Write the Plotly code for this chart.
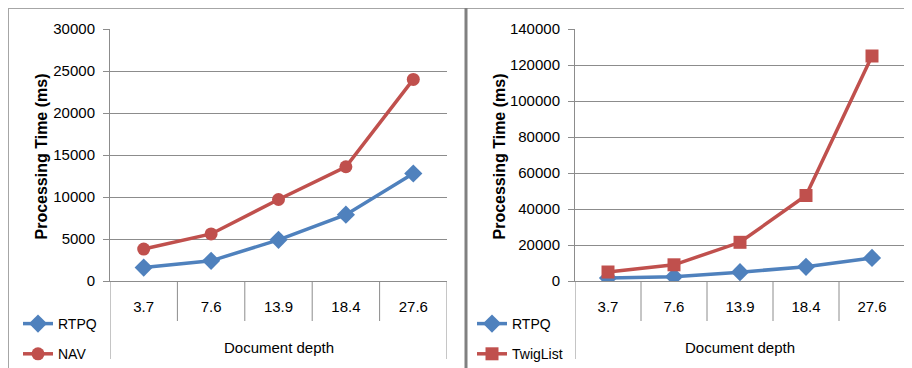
import plotly.graph_objects as go

# ---- data ----
depths = ["3.7", "7.6", "13.9", "18.4", "27.6"]
rtpq = [1600, 2400, 4900, 7900, 12800]
nav = [3800, 5600, 9700, 13600, 24000]
twiglist = [5000, 9000, 21500, 47500, 125000]
left_ticks = [0, 5000, 10000, 15000, 20000, 25000, 30000]
right_ticks = [0, 20000, 40000, 60000, 80000, 100000, 120000, 140000]

BLUE = "#4F81BD"
RED = "#C0504D"
GRID = "#8C8C8C"
FONT = "Liberation Sans"

# page offset of the plot div (body margin)
OFF = 8
W, H = 912 - OFF, 368 - OFF
# plot area in page pixels
PL, PR, PT, PB = 110, 905, 29, 281
ML, MR, MT, MB = PL - OFF, (W + OFF) - PR, PT - OFF, (H + OFF) - PB
PW = PR - PL
PH = PB - PT


def px(x):
    return (x - PL) / PW


def py(y):
    return (PB - y) / PH


fig = go.Figure()

fig.add_trace(go.Scatter(x=depths, y=rtpq, name="RTPQ", mode="lines+markers",
                         line=dict(color=BLUE, width=3.5),
                         marker=dict(symbol="diamond", size=14, color=BLUE),
                         xaxis="x", yaxis="y", legend="legend", legendgroup="a"))
fig.add_trace(go.Scatter(x=depths, y=nav, name="NAV", mode="lines+markers",
                         line=dict(color=RED, width=3.5),
                         marker=dict(symbol="circle", size=13, color=RED),
                         xaxis="x", yaxis="y", legend="legend", legendgroup="b"))
fig.add_trace(go.Scatter(x=depths, y=rtpq, name="RTPQ", mode="lines+markers",
                         line=dict(color=BLUE, width=3.5),
                         marker=dict(symbol="diamond", size=14, color=BLUE),
                         xaxis="x2", yaxis="y2", legend="legend2", legendgroup="c"))
fig.add_trace(go.Scatter(x=depths, y=twiglist, name="TwigList", mode="lines+markers",
                         line=dict(color=RED, width=3.5),
                         marker=dict(symbol="square", size=13, color=RED),
                         xaxis="x2", yaxis="y2", legend="legend2", legendgroup="d"))

xcommon = dict(type="category", range=[-0.5, len(depths) - 0.5], showgrid=False,
               showline=True, linecolor=GRID, linewidth=1, ticks="",
               ticklabelstandoff=12, zeroline=False, automargin=False,
               tickfont=dict(family=FONT, size=15, color="#000000"))
ycommon = dict(showgrid=True, gridcolor=GRID, gridwidth=1, showline=True,
               linecolor=GRID, linewidth=1, ticks="outside", ticklen=6,
               tickcolor=GRID, zeroline=False, ticklabelstandoff=5,
               tickformat="d", automargin=False,
               tickfont=dict(family=FONT, size=15, color="#000000"))

x1dom = [px(110), px(447)]
x2dom = [px(575), px(905)]

legend_common = dict(xref="container", yref="container", xanchor="left", yanchor="top",
                     font=dict(family=FONT, size=14, color="#000000"),
                     bgcolor="rgba(0,0,0,0)", tracegroupgap=9, itemwidth=30)

fig.update_layout(
    width=W, height=H,
    margin=dict(l=ML, r=MR, t=MT, b=MB, autoexpand=False),
    paper_bgcolor="white", plot_bgcolor="white",
    xaxis=dict(domain=x1dom, anchor="y", **xcommon),
    xaxis2=dict(domain=x2dom, anchor="y2", **xcommon),
    yaxis=dict(domain=[0, 1], anchor="x", range=[0, 30000], tickvals=left_ticks, **ycommon),
    yaxis2=dict(domain=[0, 1], anchor="x2", range=[0, 140000], tickvals=right_ticks, **ycommon),
    showlegend=True,
    legend=dict(x=(18 - OFF) / W, y=1 - (308 - OFF) / H, **legend_common),
    legend2=dict(x=(472 - OFF) / W, y=1 - (308 - OFF) / H, **legend_common),
)

# axis titles as annotations
for dom in (x1dom, x2dom):
    fig.add_annotation(text="Document depth", xref="paper", yref="paper",
                       x=(dom[0] + dom[1]) / 2, y=py(347), showarrow=False,
                       xanchor="center", yanchor="middle",
                       font=dict(family=FONT, size=15, color="#000000"))
for xc in (41, 499):
    fig.add_annotation(text="<b>Processing Time (ms)</b>", xref="paper", yref="paper",
                       x=px(xc), y=py(156.5), showarrow=False, textangle=-90,
                       xanchor="center", yanchor="middle",
                       font=dict(family=FONT, size=16, color="#000000"))

shapes = []
# category separators below the axis
for xa in ("x", "x2"):
    n = len(depths)
    for k in range(n + 1):
        bottom = py(359) if k in (0, n) else py(321)
        shapes.append(dict(type="line", xref=xa, yref="paper",
                           x0=k - 0.5, x1=k - 0.5, y0=0, y1=bottom,
                           line=dict(color=GRID, width=1)))
# frame decorations
shapes.append(dict(type="line", xref="paper", yref="paper",
                   x0=px(8), x1=px(912), y0=py(8.5), y1=py(8.5),
                   line=dict(color="#A6A6A6", width=1)))
shapes.append(dict(type="line", xref="paper", yref="paper",
                   x0=px(8.5), x1=px(8.5), y0=py(8), y1=py(368),
                   line=dict(color="#A6A6A6", width=1)))
shapes.append(dict(type="line", xref="paper", yref="paper",
                   x0=px(466), x1=px(466), y0=py(8), y1=py(368),
                   line=dict(color="#808080", width=3)))
fig.update_layout(shapes=shapes)

fig.write_html("out.html")
